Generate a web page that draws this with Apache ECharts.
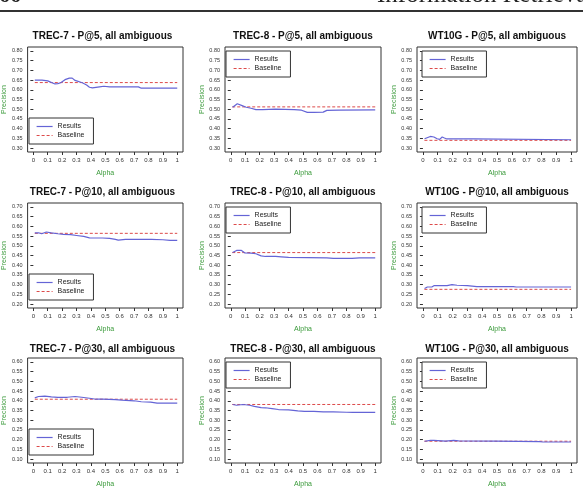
<!DOCTYPE html>
<html lang="en">
<head>
    <meta http-equiv="Content-Type" content="text/html; charset=utf-8"/>
    <title>Alpha vs Precision, all ambiguous</title>
    <script src="https://cdn.jsdelivr.net/npm/echarts@6/dist/echarts.min.js"></script>
</head>
<body>
<style>
    body {
        margin: 0;
        background: #fff;
    }

    #main {
        width: 583px;
        height: 489px;
    }
</style>
<div id="main"></div>
<script type="text/javascript">

  // panel titles, row by row
  var titles = [
    'TREC-7 - P@5, all ambiguous', 'TREC-8 - P@5, all ambiguous', 'WT10G - P@5, all ambiguous',
    'TREC-7 - P@10, all ambiguous', 'TREC-8 - P@10, all ambiguous', 'WT10G - P@10, all ambiguous',
    'TREC-7 - P@30, all ambiguous', 'TREC-8 - P@30, all ambiguous', 'WT10G - P@30, all ambiguous'
  ];

  var xTicks = [0, 0.1, 0.2, 0.3, 0.4, 0.5, 0.6, 0.7, 0.8, 0.9, 1];
  var yTicksP5 = [0.30, 0.35, 0.40, 0.45, 0.50, 0.55, 0.60, 0.65, 0.70, 0.75, 0.80];
  var yTicksP10 = [0.20, 0.25, 0.30, 0.35, 0.40, 0.45, 0.50, 0.55, 0.60, 0.65, 0.70];
  var yTicksP30 = [0.10, 0.15, 0.20, 0.25, 0.30, 0.35, 0.40, 0.45, 0.50, 0.55, 0.60];

  // baseline precision per panel
  var baselines = [0.637, 0.512, 0.340, 0.564, 0.465, 0.276, 0.408, 0.381, 0.192];
  var baselineSpan = [0.01, 1];

  // results: [alpha, precision]
  var trec7P5 = [[0.01, 0.650], [0.06, 0.650], [0.10, 0.646], [0.15, 0.630], [0.17, 0.632], [0.19, 0.636],
    [0.22, 0.652], [0.25, 0.660], [0.27, 0.660], [0.29, 0.648], [0.34, 0.636], [0.37, 0.625], [0.39, 0.613],
    [0.41, 0.610], [0.46, 0.615], [0.49, 0.618], [0.53, 0.615], [0.73, 0.615], [0.75, 0.608], [1.0, 0.608]];
  var trec8P5 = [[0.013, 0.510], [0.045, 0.528], [0.074, 0.520], [0.107, 0.510], [0.14, 0.505], [0.174, 0.498],
    [0.22, 0.498], [0.31, 0.500], [0.44, 0.498], [0.49, 0.495], [0.53, 0.484], [0.576, 0.484], [0.64, 0.485],
    [0.665, 0.494], [0.75, 0.495], [1.0, 0.497]];
  var wt10gP5 = [[0.011, 0.348], [0.05, 0.360], [0.074, 0.357], [0.096, 0.348], [0.113, 0.345], [0.13, 0.357],
    [0.145, 0.352], [0.163, 0.347], [0.34, 0.347], [0.353, 0.343], [1.0, 0.343]];
  var trec7P10 = [[0.01, 0.566], [0.036, 0.567], [0.058, 0.562], [0.09, 0.571], [0.125, 0.566], [0.17, 0.562],
    [0.21, 0.559], [0.26, 0.557], [0.30, 0.553], [0.35, 0.548], [0.39, 0.541], [0.44, 0.540], [0.48, 0.540],
    [0.53, 0.538], [0.57, 0.533], [0.59, 0.529], [0.64, 0.533], [0.82, 0.533], [0.90, 0.531], [0.95, 0.528], [1.0, 0.528]];
  var trec8P10 = [[0.013, 0.465], [0.04, 0.476], [0.074, 0.476], [0.096, 0.464], [0.14, 0.462], [0.174, 0.459],
    [0.21, 0.448], [0.24, 0.445], [0.31, 0.445], [0.35, 0.443], [0.40, 0.440], [0.665, 0.438], [0.71, 0.435],
    [0.84, 0.435], [0.89, 0.438], [1.0, 0.438]];
  var wt10gP10 = [[0.011, 0.280], [0.03, 0.288], [0.06, 0.288], [0.074, 0.295], [0.163, 0.295], [0.196, 0.300],
    [0.23, 0.297], [0.30, 0.295], [0.364, 0.290], [0.61, 0.290], [0.63, 0.288], [1.0, 0.288]];
  var trec7P30 = [[0.01, 0.415], [0.036, 0.422], [0.08, 0.424], [0.125, 0.420], [0.17, 0.417], [0.236, 0.418],
    [0.29, 0.422], [0.336, 0.418], [0.39, 0.413], [0.436, 0.408], [0.48, 0.408], [0.57, 0.406], [0.615, 0.403],
    [0.70, 0.400], [0.75, 0.395], [0.815, 0.393], [0.86, 0.388], [1.0, 0.388]];
  var trec8P30 = [[0.013, 0.381], [0.04, 0.377], [0.085, 0.381], [0.13, 0.377], [0.163, 0.371], [0.21, 0.365],
    [0.24, 0.364], [0.286, 0.360], [0.33, 0.355], [0.40, 0.353], [0.464, 0.348], [0.51, 0.345], [0.576, 0.345],
    [0.64, 0.343], [0.71, 0.343], [0.80, 0.341], [0.844, 0.340], [1.0, 0.340]];
  var wt10gP30 = [[0.011, 0.192], [0.051, 0.196], [0.074, 0.196], [0.085, 0.192], [0.152, 0.192], [0.163, 0.196],
    [0.208, 0.196], [0.219, 0.192], [0.241, 0.194], [0.252, 0.192], [0.487, 0.192], [0.498, 0.190], [0.788, 0.190],
    [0.81, 0.188], [1.0, 0.188]];

  var results = [trec7P5, trec8P5, wt10gP5, trec7P10, trec8P10, wt10gP10, trec7P30, trec8P30, wt10gP30];
  var yTicks = [yTicksP5, yTicksP10, yTicksP30];

  // layout (pixels)
  var colLeft = [22, 225, 417];
  var colWidth = [161, 156, 160];
  var rowTop = [47, 203, 358];
  var rowHeight = 105;
  var titleTop = [31, 187, 344];

  var FONT = 'Liberation Sans';
  var GREEN = '#3a9a3a';
  var BLUE = '#6464d6';
  var RED = '#dd4a4a';

  var option = {
    animation: false,
    backgroundColor: '#fff',
    title: [],
    legend: [],
    grid: [],
    xAxis: [],
    yAxis: [],
    series: [],
    graphic: [
      {type: 'text', left: -12, top: -15, style: {text: '366', fontFamily: 'Liberation Serif', fontSize: 22, fontWeight: 'bold', fill: '#222'}},
      {type: 'text', left: 377, top: -17, style: {text: 'Information Retrieval', fontFamily: 'Liberation Serif', fontSize: 25, fill: '#222'}},
      {type: 'line', shape: {x1: 0, y1: 11, x2: 583, y2: 11}, style: {stroke: '#333', lineWidth: 2}}
    ]
  };

  for (var i = 0; i < 9; i++) {
    var row = Math.floor(i / 3);
    var col = i % 3;
    var ticks = yTicks[row];
    var lo = ticks[0], hi = ticks[ticks.length - 1];
    var pad = (hi - lo) * 0.04;

    option.title.push({
      text: titles[i],
      left: colLeft[col] + colWidth[col] / 2,
      top: titleTop[row],
      textAlign: 'center',
      padding: 0,
      textStyle: {fontFamily: FONT, fontSize: 10, fontWeight: 'bold', color: '#111'}
    });

    option.grid.push({
      left: colLeft[col],
      top: rowTop[row],
      width: colWidth[col],
      height: rowHeight,
      show: true,
      borderColor: '#333',
      borderWidth: 1,
      backgroundColor: 'transparent'
    });

    option.xAxis.push({
      type: 'value',
      gridIndex: i,
      min: -0.04,
      max: 1.04,
      name: 'Alpha',
      nameLocation: 'middle',
      nameGap: 18,
      nameTextStyle: {fontFamily: FONT, fontSize: 7, color: GREEN},
      axisLine: {show: false},
      splitLine: {show: false},
      axisTick: {show: true, length: 3, customValues: xTicks, lineStyle: {color: '#333'}},
      axisLabel: {
        customValues: xTicks, margin: 5, fontFamily: FONT, fontSize: 6, color: '#333',
        formatter: function (v) { return String(+v.toFixed(1)); }
      }
    });

    option.yAxis.push({
      type: 'value',
      gridIndex: i,
      min: +(lo - pad).toFixed(3),
      max: +(hi + pad).toFixed(3),
      name: 'Precision',
      nameLocation: 'middle',
      nameGap: 15,
      nameTextStyle: {fontFamily: FONT, fontSize: 7, color: GREEN},
      axisLine: {show: false},
      splitLine: {show: false},
      axisTick: {show: true, length: 3, customValues: ticks, lineStyle: {color: '#333'}},
      axisLabel: {
        customValues: ticks, margin: 5, fontFamily: FONT, fontSize: 5.5, color: '#333',
        formatter: function (v) { return v.toFixed(2); }
      }
    });

    var legendPos = {
      orient: 'vertical',
      data: [
        {name: 'Results', lineStyle: {color: BLUE, width: 1.2, type: 'solid'}},
        {name: 'Baseline', lineStyle: {color: RED, width: 1, type: [3, 2]}}
      ],
      left: col === 0 ? colLeft[col] + 7 : colLeft[col] + (col === 1 ? 1 : 5),
      padding: [5, 9, 5, 7],
      itemGap: 2,
      itemWidth: 16,
      itemHeight: 8,
      borderColor: '#333',
      borderWidth: 1,
      borderRadius: 0,
      backgroundColor: '#fff',
      selectedMode: false,
      itemStyle: {opacity: 0},
      textStyle: {fontFamily: FONT, fontSize: 7, color: '#222'}
    };
    if (col === 0) {
      legendPos.top = rowTop[row] + rowHeight - 5 - 29;
    } else {
      legendPos.top = rowTop[row] + 4;
    }
    option.legend.push(legendPos);

    option.series.push({
      name: 'Baseline',
      type: 'line',
      xAxisIndex: i,
      yAxisIndex: i,
      symbol: 'none',
      data: [[baselineSpan[0], baselines[i]], [baselineSpan[1], baselines[i]]],
      lineStyle: {color: RED, width: 1, type: [3, 2]},
      itemStyle: {color: RED},
      z: 2
    });
    option.series.push({
      name: 'Results',
      type: 'line',
      xAxisIndex: i,
      yAxisIndex: i,
      symbol: 'none',
      data: results[i],
      lineStyle: {color: BLUE, width: 1.2},
      itemStyle: {color: BLUE},
      z: 3
    });
  }

  var myChart = echarts.init(document.getElementById('main'));
  myChart.setOption(option);
</script>
</body>
</html>
